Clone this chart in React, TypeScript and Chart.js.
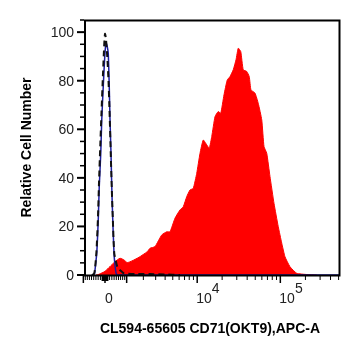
import React, { useEffect, useRef } from "react";
import { Chart, registerables } from "chart.js";
Chart.register(...registerables);

// Histogram data in display channels (0..1024 across the x axis), y = relative cell number
const redX = [48, 60, 84, 104, 124, 144, 160, 173, 192, 220, 253, 264, 284, 311, 331, 344, 364, 384, 397, 411, 424, 437, 451, 464, 477, 491, 501, 511, 524, 537, 547, 560, 573, 584, 597, 608, 617, 627, 637, 651, 661, 668, 684, 697, 711, 720, 731, 744, 760, 777, 791, 804, 824, 851, 891, 931];
const redY = [0, 0.3, 1.5, 3.5, 5.5, 6.9, 6.2, 5.1, 5.8, 7.3, 9.6, 11.0, 11.7, 16.5, 17.8, 17.8, 23.4, 26.8, 28.1, 32.3, 35.0, 35.7, 41.9, 50.1, 55.6, 53.6, 52.2, 57.0, 65.2, 67.3, 66.6, 74.2, 80.3, 81.7, 84.5, 88.6, 93.4, 92.0, 84.5, 83.8, 81.7, 76.2, 74.9, 70.7, 63.9, 52.9, 50.1, 40.5, 29.5, 19.9, 13.1, 7.5, 3.4, 0.7, 0.2, 0];

const blueX = [32, 42, 44, 51, 57, 61, 67, 71, 77, 82, 86, 89, 93, 97, 101, 104, 108, 111, 115, 120, 124, 129, 136, 1024];
const blueY = [0, 0.5, 2, 9, 22.7, 36.4, 50, 63.9, 77.6, 88, 94, 95.5, 94, 91.3, 77.6, 63.9, 50, 36.4, 22.7, 9, 4, 0.5, 0, 0];

const dashX = [32, 40, 44, 50, 56, 60, 65, 70, 76, 81, 84, 88, 93, 98, 102, 107, 111, 115, 121, 131, 137, 151, 160, 204, 264, 324, 384];
const dashY = [0, 0.5, 2.5, 10, 24, 38, 53, 67, 83, 95, 99.3, 97, 90, 80, 68, 50, 36, 24, 9, 4.1, 2.7, 1.4, 0.7, 0.4, 0.4, 0.2, 0];

// Axis ticks
const yMajorTicks = [0, 20, 40, 60, 80, 100];
const yMinorTicks = [5, 10, 15, 25, 30, 35, 45, 50, 55, 65, 70, 75, 85, 90, 95, 105];
const xLabelValues = [0, 10000, 100000];
const xLabelBase = ["0", "10", "10"];
const xLabelExp = ["", "4", "5"];
const xMajorValues = [-1000, 0, 1000, 10000, 100000];
const xMinorValues = [
  -900, -800, -700, -600, -500, -400, -300, -200, -100, -50, 50, 100, 200, 300, 400, 500, 600, 700, 800, 900,
  2000, 3000, 4000, 5000, 6000, 7000, 8000, 9000,
  20000, 30000, 40000, 50000, 60000, 70000, 80000, 90000,
  200000, 300000, 400000, 500000,
];

const xTitle = "CL594-65605 CD71(OKT9),APC-A";
const yTitle = "Relative Cell Number";

// biexponential-like display transform (value -> display channel)
const toChannel = (v: number) => 84 + 144.8 * Math.asinh(v / 1576);

const FONT = '"Liberation Sans", Arial, sans-serif';

const axesPlugin = {
  id: "flowAxes",
  afterDraw(chart: any) {
    const ctx = chart.ctx as CanvasRenderingContext2D;
    const { left, right, top, bottom } = chart.chartArea;
    const xs = chart.scales.x;
    const ys = chart.scales.y;
    ctx.save();
    // frame
    ctx.strokeStyle = "#000";
    ctx.lineWidth = 2;
    ctx.strokeRect(left + 1, top + 0.5, right - left - 1.5, bottom - top);

    // y ticks
    ctx.lineWidth = 2;
    yMajorTicks.forEach((v) => {
      const p = ys.getPixelForValue(v);
      ctx.beginPath();
      ctx.moveTo(left - 7, p);
      ctx.lineTo(left, p);
      ctx.stroke();
    });
    ctx.lineWidth = 1.5;
    yMinorTicks.forEach((v) => {
      const p = ys.getPixelForValue(v);
      if (p < top) return;
      ctx.beginPath();
      ctx.moveTo(left - 4, p);
      ctx.lineTo(left, p);
      ctx.stroke();
    });
    ctx.fillStyle = "#222";
    ctx.font = `14px ${FONT}`;
    ctx.textAlign = "right";
    ctx.textBaseline = "middle";
    yMajorTicks.forEach((v) => {
      const p = ys.getPixelForValue(v);
      ctx.fillText(String(v), left - 10, p + 1);
    });

    // x ticks
    ctx.lineWidth = 1.5;
    xMajorValues.forEach((v) => {
      const p = xs.getPixelForValue(toChannel(v));
      ctx.beginPath();
      ctx.moveTo(p, bottom + 1);
      ctx.lineTo(p, bottom + 8);
      ctx.stroke();
    });
    ctx.lineWidth = 1;
    xMinorValues.forEach((v) => {
      const p = xs.getPixelForValue(toChannel(v));
      if (p > right) return;
      ctx.beginPath();
      ctx.moveTo(p, bottom + 1);
      ctx.lineTo(p, bottom + 5);
      ctx.stroke();
    });
    // thick block around zero
    const z0 = xs.getPixelForValue(toChannel(-150));
    const z1 = xs.getPixelForValue(toChannel(150));
    ctx.fillStyle = "#000";
    ctx.fillRect(z0, bottom + 1, z1 - z0, 5);

    ctx.fillStyle = "#222";
    ctx.font = `14px ${FONT}`;
    ctx.textBaseline = "alphabetic";
    xLabelValues.forEach((v, i) => {
      const p = xs.getPixelForValue(toChannel(v));
      if (xLabelExp[i] === "") {
        ctx.textAlign = "center";
        ctx.fillText(xLabelBase[i], p + 4, bottom + 28);
      } else {
        ctx.textAlign = "left";
        const w = ctx.measureText(xLabelBase[i]).width;
        ctx.fillText(xLabelBase[i], p - 1, bottom + 28);
        ctx.fillText(xLabelExp[i], p - 1 + w, bottom + 18);
      }
    });

    // titles
    ctx.fillStyle = "#000";
    ctx.font = `bold 14px ${FONT}`;
    ctx.textAlign = "center";
    ctx.textBaseline = "middle";
    ctx.fillText(xTitle, (left + right) / 2 - 2, bottom + 54);
    ctx.save();
    ctx.translate(27.5, (top + bottom) / 2);
    ctx.rotate(-Math.PI / 2);
    ctx.fillText(yTitle, 0, 0);
    ctx.restore();
    ctx.restore();
  },
};

export default function App() {
  const ref = useRef<HTMLCanvasElement>(null);
  useEffect(() => {
    if (!ref.current) return;
    const chart = new Chart(ref.current, {
      type: "line",
      data: {
        datasets: [
          {
            label: "isotype",
            data: dashX.map((x, i) => ({ x, y: dashY[i] })),
            borderColor: "#111",
            borderWidth: 2,
            borderDash: [6, 4],
            pointRadius: 0,
            fill: false,
            tension: 0.2,
          },
          {
            label: "unstained",
            data: blueX.map((x, i) => ({ x, y: blueY[i] })),
            borderColor: "#1c1ca0",
            borderWidth: 1.5,
            pointRadius: 0,
            fill: false,
            tension: 0.2,
          },
          {
            label: "CD71",
            data: redX.map((x, i) => ({ x, y: redY[i] })),
            borderColor: "#ff0000",
            backgroundColor: "#ff0000",
            borderWidth: 1,
            pointRadius: 0,
            fill: "origin",
            tension: 0.15,
          },
        ],
      },
      options: {
        animation: false,
        responsive: false,
        devicePixelRatio: 1,
        layout: { padding: { left: 84, right: 21, top: 20, bottom: 81 } },
        plugins: { legend: { display: false }, tooltip: { enabled: false } },
        scales: {
          x: { type: "linear", min: 0, max: 1024, display: false },
          y: { type: "linear", min: 0, max: 105, display: false },
        },
      },
      plugins: [axesPlugin],
    });
    return () => chart.destroy();
  }, []);
  return (
    <div style={{ position: "fixed", left: 0, top: 0, width: 361, height: 356, background: "#fff" }}>
      <canvas ref={ref} width={361} height={356} style={{ display: "block" }} />
    </div>
  );
}
